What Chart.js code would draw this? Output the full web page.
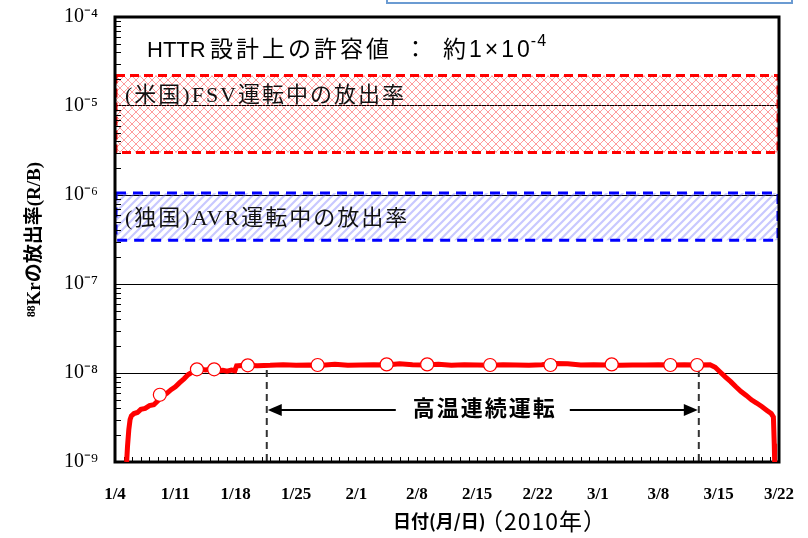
<!DOCTYPE html>
<html>
<head>
<meta charset="utf-8">
<script src="https://cdn.jsdelivr.net/npm/chart.js@4.4.1/dist/chart.umd.min.js"></script>
<style>
  body { margin: 0; background: #fff; }
  #wrap { width: 808px; height: 538px; }
</style>
</head>
<body>
<div id="wrap"><canvas id="krChart" width="808" height="538"></canvas></div>
<script>
// x axis: days since 1/4 (2010)
const dateLabels = ['1/4', '1/11', '1/18', '1/25', '2/1', '2/8', '2/15', '2/22', '3/1', '3/8', '3/15', '3/22'];

// 88Kr release rate (R/B)
const releaseDays = [1.35, 1.45, 1.6, 1.75, 1.9, 2.2, 2.6, 3.0, 3.5, 4.0, 4.5, 5.0, 5.5, 6.0, 6.5, 7.0, 7.5, 8.0, 8.5, 9.0,
    9.5, 10.0, 10.5, 11.0, 11.5, 12.0, 12.5, 13.0, 13.5, 13.9, 14.1, 15, 16.5, 18, 19.5, 21, 22.5, 24, 25.5, 27,
    28.5, 30, 31.5, 33, 34.5, 36, 37.5, 39, 40.5, 42, 43.5, 45, 46.5, 48, 49.5, 51, 52.5, 54, 55.5, 57,
    58.5, 60, 61.5, 63, 64.5, 66, 67.5, 69, 69.6, 70.2, 70.8, 71.4, 72.0, 72.6, 73.2, 73.8, 74.4, 75.0, 75.6, 76.1,
    76.35, 76.45, 76.5];
const releaseRates = [1.0e-9, 1.5e-9, 2.3e-9, 3.0e-9, 3.3e-9, 3.5e-9, 3.6e-9, 3.9e-9, 4.0e-9, 4.3e-9, 4.4e-9, 4.9e-9, 5.6e-9, 5.9e-9, 6.5e-9, 7.0e-9, 7.8e-9, 8.6e-9, 9.6e-9, 1.03e-8,
    1.08e-8, 1.1e-8, 1.08e-8, 1.1e-8, 1.09e-8, 1.06e-8, 1.07e-8, 1.05e-8, 1.08e-8, 1.06e-8, 1.2e-8, 1.22e-8, 1.21e-8, 1.22e-8, 1.24e-8, 1.22e-8, 1.23e-8, 1.22e-8, 1.25e-8, 1.22e-8,
    1.23e-8, 1.24e-8, 1.23e-8, 1.27e-8, 1.24e-8, 1.23e-8, 1.25e-8, 1.22e-8, 1.24e-8, 1.23e-8, 1.22e-8, 1.24e-8, 1.23e-8, 1.22e-8, 1.24e-8, 1.28e-8, 1.27e-8, 1.23e-8, 1.24e-8, 1.23e-8,
    1.22e-8, 1.23e-8, 1.23e-8, 1.24e-8, 1.23e-8, 1.24e-8, 1.23e-8, 1.24e-8, 1.16e-8, 1.02e-8, 9.0e-9, 8.0e-9, 7.0e-9, 6.2e-9, 5.6e-9, 5.0e-9, 4.6e-9, 4.2e-9, 3.8e-9, 3.5e-9,
    3.2e-9, 1.6e-9, 1.0e-9];

// open circle markers
const markerDays = [5.2, 9.5, 11.5, 15.4, 23.5, 31.5, 36.2, 43.5, 50.5, 57.6, 64.4, 67.5];
const markerRates = [5.7e-9, 1.1e-8, 1.1e-8, 1.22e-8, 1.23e-8, 1.25e-8, 1.25e-8, 1.23e-8, 1.23e-8, 1.25e-8, 1.23e-8, 1.23e-8];

// reference bands [low, high]
const fsvRange = [3.0e-6, 2.2e-5];
const avrRange = [3.1e-7, 1.05e-6];

// high temperature continuous run (days), arrow level, dashed top
const runDays = [17.6, 67.7];
const runArrowRate = 3.85e-9;
const runTopRate = 1.08e-8;

const fsvLabel = '(米国)FSV運転中の放出率';
const avrLabel = '(独国)AVR運転中の放出率';
const runLabel = '高温連続運転';
const limitLabel = ['HTTR', '設計上の許容値', '：', '約1×10', '-4'];
const xTitle = ['日付(月/日)', '（2010年）'];
const yTitle = '⁸⁸Krの放出率(R/B)';

const SERIF = '"Liberation Serif", "Noto Sans CJK JP", serif';
const SANS = '"Liberation Sans", "Noto Sans CJK JP", sans-serif';
const CJK = '"Noto Sans CJK JP", sans-serif';

const supMap = { '-': '⁻', '0': '⁰', '1': '¹', '2': '²', '3': '³', '4': '⁴', '5': '⁵', '6': '⁶', '7': '⁷', '8': '⁸', '9': '⁹' };
function sup(n) {
    return String(n).split('').map(c => supMap[c]).join('');
}
function isDecade(v) {
    let e = Math.log10(v);
    return Math.abs(e - Math.round(e)) < 1e-6;
}

function makePattern(kind) {
    let c = document.createElement('canvas');
    let s = 8;
    c.width = s; c.height = s;
    let g = c.getContext('2d');
    if (kind == 'cross') {
        g.strokeStyle = 'rgba(255, 90, 90, 0.6)';
        g.lineWidth = 1;
        g.beginPath();
        g.moveTo(0, 0); g.lineTo(s, s);
        g.moveTo(0, s); g.lineTo(s, 0);
        g.stroke();
    } else {
        g.strokeStyle = 'rgba(110, 110, 255, 0.38)';
        g.lineWidth = 2.2;
        g.beginPath();
        g.moveTo(-1, s + 1); g.lineTo(s + 1, -1);
        g.moveTo(-1, 1); g.lineTo(1, -1);
        g.moveTo(s - 1, s + 1); g.lineTo(s + 1, s - 1);
        g.stroke();
    }
    return g.createPattern(c, 'repeat');
}

function drawBand(ctx, area, y, range, fill, color, dash) {
    let top = y.getPixelForValue(range[1]);
    let bot = y.getPixelForValue(range[0]);
    ctx.save();
    ctx.fillStyle = fill;
    ctx.fillRect(area.left, top, area.right - area.left, bot - top);
    ctx.setLineDash(dash);
    ctx.lineWidth = 3;
    ctx.strokeStyle = color;
    ctx.strokeRect(area.left + 1, top, area.right - area.left - 2, bot - top);
    ctx.restore();
}

function arrowHead(ctx, x, y, dir) {
    ctx.beginPath();
    ctx.moveTo(x, y);
    ctx.lineTo(x - dir * 14, y - 6);
    ctx.lineTo(x - dir * 14, y + 6);
    ctx.closePath();
    ctx.fill();
}

const decor = {
    id: 'decor',
    beforeDatasetsDraw(chart) {
        let ctx = chart.ctx;
        let area = chart.chartArea;
        let x = chart.scales.x;
        let y = chart.scales.y;

        // bands
        drawBand(ctx, area, y, fsvRange, makePattern('cross'), '#ff0000', [9, 5]);
        drawBand(ctx, area, y, avrRange, makePattern('hatch'), '#0000ff', [10, 7]);

        ctx.save();
        ctx.fillStyle = '#111';
        ctx.font = '22px ' + SERIF;
        ctx.letterSpacing = '2px';
        ctx.textBaseline = 'middle';
        ctx.fillText(fsvLabel, 125, y.getPixelForValue(1.3e-5));
        ctx.fillText(avrLabel, 125, y.getPixelForValue(5.4e-7));
        ctx.restore();

        // minor ticks, inside
        ctx.save();
        ctx.strokeStyle = '#000';
        ctx.lineWidth = 1;
        ctx.beginPath();
        for (let e = -9; e < -4; e++) {
            for (let m = 2; m <= 9; m++) {
                let py = Math.round(y.getPixelForValue(m * Math.pow(10, e))) + 0.5;
                ctx.moveTo(area.left, py);
                ctx.lineTo(area.left + 6, py);
            }
        }
        for (let d = 1; d < 77; d++) {
            let px = Math.round(x.getPixelForValue(d)) + 0.5;
            ctx.moveTo(px, area.bottom);
            ctx.lineTo(px, area.bottom - 5);
        }
        ctx.stroke();
        ctx.restore();

        // run period dashed lines
        ctx.save();
        ctx.strokeStyle = '#333';
        ctx.lineWidth = 2;
        ctx.setLineDash([7, 5]);
        ctx.beginPath();
        runDays.forEach(d => {
            let px = x.getPixelForValue(d);
            ctx.moveTo(px, y.getPixelForValue(runTopRate));
            ctx.lineTo(px, area.bottom);
        });
        ctx.stroke();
        ctx.restore();

        // arrows + label
        let x0 = x.getPixelForValue(runDays[0]);
        let x1 = x.getPixelForValue(runDays[1]);
        let ay = y.getPixelForValue(runArrowRate);
        let mid = (x0 + x1) / 2;
        ctx.save();
        ctx.fillStyle = '#000';
        ctx.strokeStyle = '#000';
        ctx.lineWidth = 2;
        ctx.beginPath();
        ctx.moveTo(x0 + 10, ay); ctx.lineTo(mid - 87, ay);
        ctx.moveTo(mid + 87, ay); ctx.lineTo(x1 - 10, ay);
        ctx.stroke();
        arrowHead(ctx, x0 + 1, ay, -1);
        arrowHead(ctx, x1 - 1, ay, 1);
        ctx.font = 'bold 22px ' + SERIF;
        ctx.letterSpacing = '2px';
        ctx.textAlign = 'center';
        ctx.textBaseline = 'middle';
        ctx.fillText(runLabel, mid + 2, ay);
        ctx.restore();

        // plot frame
        ctx.save();
        ctx.strokeStyle = '#000';
        ctx.lineWidth = 3;
        ctx.strokeRect(area.left, area.top, area.right - area.left, area.bottom - area.top);
        ctx.restore();
    },
    afterDraw(chart) {
        let ctx = chart.ctx;
        ctx.save();
        ctx.fillStyle = '#000';
        ctx.textBaseline = 'alphabetic';

        // design limit text
        ctx.font = '22px ' + SANS;
        ctx.fillText(limitLabel[0], 147, 57);
        ctx.font = '23px ' + CJK;
        ctx.letterSpacing = '3px';
        ctx.fillText(limitLabel[1], 210, 57);
        ctx.letterSpacing = '0px';
        ctx.fillText(limitLabel[2], 404, 57);
        ctx.font = '23px ' + SANS;
        ctx.letterSpacing = '3px';
        ctx.fillText(limitLabel[3], 443, 57);
        let w = ctx.measureText(limitLabel[3]).width;
        ctx.letterSpacing = '1px';
        ctx.font = '16px ' + SANS;
        ctx.fillText(limitLabel[4], 441 + w, 46);

        // x title
        ctx.letterSpacing = '0px';
        ctx.font = 'bold 18px ' + CJK;
        ctx.fillText(xTitle[0], 393, 528);
        ctx.font = '23px ' + CJK;
        ctx.letterSpacing = '1px';
        ctx.fillText(xTitle[1], 480, 530);

        // box edge at top right
        ctx.strokeStyle = '#6b9bd2';
        ctx.lineWidth = 2;
        ctx.strokeRect(387, -6, 405, 9);
        ctx.restore();
    }
};

let chart = new Chart(document.getElementById('krChart'), {
    type: 'line',
    data: {
        datasets: [{
            label: 'markers',
            data: markerDays.map((d, i) => ({ x: d, y: markerRates[i] })),
            showLine: false,
            pointRadius: 6.5,
            pointBackgroundColor: '#ffffff',
            pointBorderColor: '#ff0000',
            pointBorderWidth: 1.2
        }, {
            label: '88Kr',
            data: releaseDays.map((d, i) => ({ x: d, y: releaseRates[i] })),
            borderColor: '#ff0000',
            borderWidth: 5,
            pointRadius: 0,
            tension: 0
        }]
    },
    options: {
        responsive: false,
        animation: false,
        layout: { padding: { left: 20, top: 17, right: 29, bottom: 0 } },
        plugins: {
            legend: { display: false },
            tooltip: { enabled: false }
        },
        scales: {
            x: {
                type: 'linear',
                min: 0,
                max: 77,
                afterFit: function (scale) {
                    scale.height = 76;
                    scale.paddingLeft = 0;
                    scale.paddingRight = 0;
                },
                grid: { display: false, drawTicks: false },
                border: { display: false },
                ticks: {
                    stepSize: 7,
                    padding: 22,
                    maxRotation: 0,
                    autoSkip: false,
                    color: '#000',
                    font: { family: SERIF, size: 17, weight: 'bold' },
                    callback: (v) => dateLabels[Math.round(v / 7)]
                }
            },
            y: {
                type: 'logarithmic',
                min: 1e-9,
                max: 1e-4,
                afterFit: function (scale) {
                    scale.width = 95;
                    scale.paddingTop = 0;
                    scale.paddingBottom = 0;
                },
                border: { display: false },
                grid: {
                    drawTicks: false,
                    lineWidth: 1,
                    color: (c) => (c.tick && isDecade(c.tick.value)) ? '#000' : 'rgba(0,0,0,0)'
                },
                ticks: {
                    padding: 17,
                    autoSkip: false,
                    color: '#000',
                    font: { family: SERIF, size: 20 },
                    callback: (v) => isDecade(v) ? '10' + sup(Math.round(Math.log10(v))) : ''
                },
                title: {
                    display: true,
                    text: yTitle,
                    color: '#000',
                    padding: { top: 4, bottom: 0 },
                    font: { family: SERIF, size: 19, weight: 'bold' }
                }
            }
        }
    },
    plugins: [decor]
});
</script>
</body>
</html>
